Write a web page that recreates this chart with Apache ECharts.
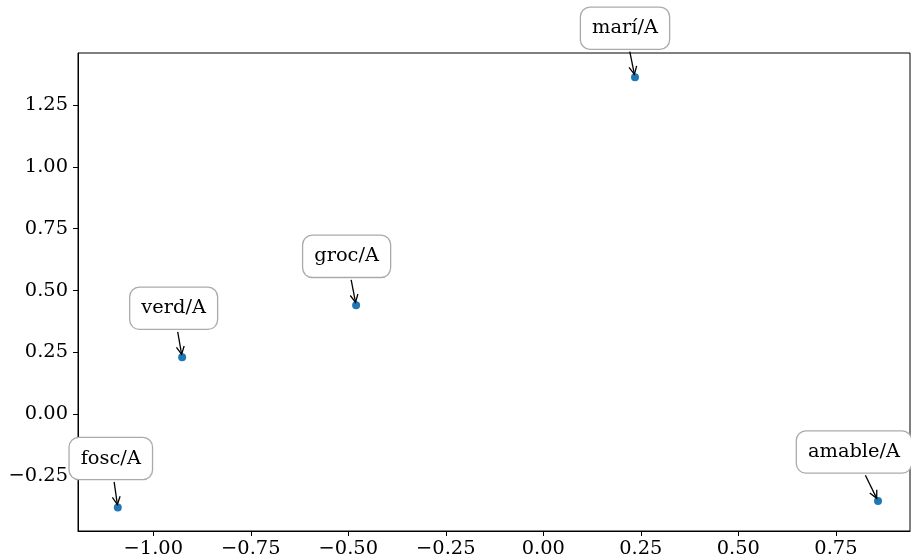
<!DOCTYPE html>
<html>
<head>
<meta charset="utf-8">
<script src="https://cdn.jsdelivr.net/npm/echarts@6/dist/echarts.min.js"></script>
<style>
  html, body { margin: 0; padding: 0; background: #fff; }
  #chart { width: 911px; height: 560px; }
</style>
</head>
<body>
<div id="chart"></div>
<script>
// data
const names = ['fosc/A', 'verd/A', 'groc/A', 'marí/A', 'amable/A']
const xValues = [-1.091, -0.926, -0.480, 0.235, 0.858]
const yValues = [-0.377, 0.230, 0.440, 1.362, -0.351]
const xTicks = [-1, -0.75, -0.5, -0.25, 0, 0.25, 0.5, 0.75]
const yTicks = [-0.25, 0, 0.25, 0.5, 0.75, 1, 1.25]

// annotation layout (pixel shift of label centre from its point)
const labelShiftX = [-7, -8.5, -9.5, -10, -24]
const labelShiftY = -49

const FONT = 'DejaVu Serif'
const FS = 19.4

const points = names.map((n, i) => [xValues[i], yValues[i], n])

function fmt(v) {
  return (v < 0 ? '\u2212' : '') + Math.abs(v).toFixed(2)
}

function renderLabel(params, api) {
  const i = params.dataIndex
  const p = api.coord([api.value(0), api.value(1)])
  const c = [p[0] + labelShiftX[i], p[1] + labelShiftY]
  const dx = p[0] - c[0], dy = p[1] - c[1]
  const len = Math.sqrt(dx * dx + dy * dy)
  const ux = dx / len, uy = dy / len
  const halfH = 20.5
  const tExit = halfH / Math.abs(uy)
  const s = [c[0] + ux * (tExit + 3), c[1] + uy * (tExit + 3)]
  const e = [p[0] - ux * 3, p[1] - uy * 3]
  const hl = 8.7, ang = 26.6 * Math.PI / 180
  const bx = -ux, by = -uy
  const rot = a => [e[0] + hl * (bx * Math.cos(a) - by * Math.sin(a)),
                    e[1] + hl * (bx * Math.sin(a) + by * Math.cos(a))]
  return {
    type: 'group',
    children: [
      {
        type: 'line',
        shape: { x1: s[0], y1: s[1], x2: e[0], y2: e[1] },
        style: { stroke: '#000', lineWidth: 1.3 }
      },
      {
        type: 'polyline',
        shape: { points: [rot(ang), e, rot(-ang)] },
        style: { stroke: '#000', lineWidth: 1.3, fill: null }
      },
      {
        type: 'text',
        x: c[0],
        y: c[1],
        style: {
          text: api.value(2),
          fontFamily: FONT,
          fontSize: FS,
          fill: '#000',
          align: 'center',
          verticalAlign: 'middle',
          lineHeight: 22,
          backgroundColor: '#fff',
          borderColor: '#aaa',
          borderWidth: 1.3,
          borderRadius: 9,
          padding: [9.5, 11]
        }
      }
    ]
  }
}

const chart = echarts.init(document.getElementById('chart'))
chart.setOption({
  animation: false,
  grid: {
    left: 78, right: 1, top: 53, bottom: 29,
    show: true, borderColor: '#000', borderWidth: 1,
    backgroundColor: 'transparent'
  },
  xAxis: {
    type: 'value',
    min: -1.193,
    max: 0.94,
    splitLine: { show: false },
    axisLine: { show: true, onZero: false, lineStyle: { color: '#000', width: 1 } },
    axisTick: { show: true, length: 5, customValues: xTicks, lineStyle: { color: '#000' } },
    axisLabel: {
      customValues: xTicks,
      formatter: fmt,
      color: '#000',
      fontFamily: FONT,
      fontSize: FS,
      margin: 8
    }
  },
  yAxis: {
    type: 'value',
    min: -0.472,
    max: 1.46,
    splitLine: { show: false },
    axisLine: { show: true, onZero: false, lineStyle: { color: '#000', width: 1 } },
    axisTick: { show: true, length: 5, customValues: yTicks, lineStyle: { color: '#000' } },
    axisLabel: {
      customValues: yTicks,
      formatter: fmt,
      color: '#000',
      fontFamily: FONT,
      fontSize: FS,
      margin: 10
    }
  },
  series: [
    {
      type: 'scatter',
      data: points,
      symbolSize: 8,
      itemStyle: { color: '#1f77b4', opacity: 1 },
      z: 2
    },
    {
      type: 'custom',
      data: points,
      renderItem: renderLabel,
      clip: false,
      z: 3
    }
  ]
})
</script>
</body>
</html>
